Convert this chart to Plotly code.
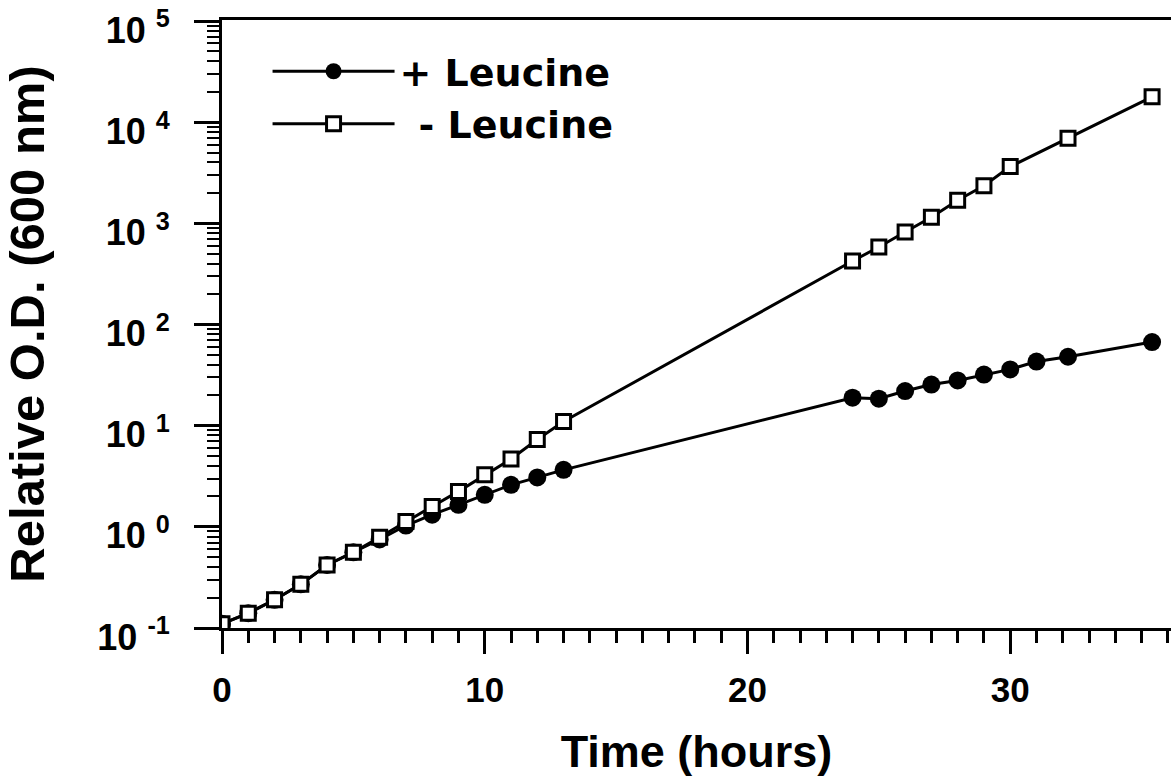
import plotly.graph_objects as go

# ---- data ----
time_plus = [0, 1, 2, 3, 4, 5, 6, 7, 8, 9, 10, 11, 12, 13,
             24, 25, 26, 27, 28, 29, 30, 31, 32.2, 35.4]
od_plus = [0.11, 0.14, 0.19, 0.27, 0.42, 0.56, 0.75, 1.03, 1.32, 1.65, 2.07, 2.6, 3.08, 3.66,
           18.9, 18.5, 22, 25.5, 28, 32, 36, 43, 48, 67]

time_minus = [0, 1, 2, 3, 4, 5, 6, 7, 8, 9, 10, 11, 12, 13,
              24, 25, 26, 27, 28, 29, 30, 32.2, 35.4]
od_minus = [0.11, 0.14, 0.19, 0.27, 0.42, 0.56, 0.79, 1.13, 1.59, 2.24, 3.27, 4.68, 7.3, 11,
            424, 583, 820, 1150, 1690, 2350, 3640, 6920, 17800]

series_names = ["+ Leucine", "\u2002- Leucine"]
x_tick_vals = [0, 10, 20, 30]
y_tick_vals = [0.1, 1, 10, 100, 1000, 10000, 100000]
y_tick_text = ["10 <sup>-1</sup>", "10 <sup>0</sup>", "10 <sup>1</sup>", "10 <sup>2</sup>",
               "10 <sup>3</sup>", "10 <sup>4</sup>", "10 <sup>5</sup>"]
x_title = "Time (hours)"
y_title = "Relative O.D. (600 nm)"

FONT = "Liberation Sans, Arial, Helvetica, sans-serif"
LEGEND_FONT = "DejaVu Sans, Liberation Sans, sans-serif"

fig = go.Figure()
fig.add_trace(go.Scatter(
    x=time_plus, y=od_plus, mode="lines+markers", name=series_names[0],
    line=dict(color="black", width=3),
    marker=dict(symbol="circle", size=18, color="black"),
))
fig.add_trace(go.Scatter(
    x=time_minus, y=od_minus, mode="lines+markers", name=series_names[1],
    line=dict(color="black", width=3),
    marker=dict(symbol="square", size=14, color="white", line=dict(color="black", width=3)),
))

fig.update_layout(
    width=1171, height=780,
    margin=dict(l=222, r=0, t=20, b=152, autoexpand=False),
    paper_bgcolor="white", plot_bgcolor="white",
    font=dict(family=FONT, color="black", size=34, weight="bold"),
    showlegend=True,
    legend=dict(
        x=0.048, y=0.967, xanchor="left", yanchor="top",
        bgcolor="rgba(0,0,0,0)", borderwidth=0,
        font=dict(family=LEGEND_FONT, size=38, color="black", weight="bold"),
        itemwidth=122,
    ),
    xaxis=dict(
        range=[0, 36.12],
        tickmode="array", tickvals=x_tick_vals,
        ticks="outside", ticklen=23, tickwidth=3, tickcolor="black",
        ticklabelstandoff=6,
        minor=dict(ticks="outside", ticklen=12, tickwidth=2.5, tickcolor="black", dtick=1, showgrid=False),
        showline=True, linewidth=3, linecolor="black", mirror=True,
        showgrid=False, zeroline=False,
        tickfont=dict(family=FONT, size=35, color="black", weight="bold"),
        title=dict(text=x_title, standoff=28,
                   font=dict(family=FONT, size=45, color="black", weight="bold")),
    ),
    yaxis=dict(
        type="log", range=[-1, 5.01],
        tickmode="array", tickvals=y_tick_vals, ticktext=y_tick_text,
        ticks="outside", ticklen=25, tickwidth=3, tickcolor="black",
        ticklabelstandoff=17, ticklabeloverflow="allow", ticklabelshift=9,
        minor=dict(ticks="outside", ticklen=12, tickwidth=2, tickcolor="black", dtick="D1", showgrid=False),
        showline=True, linewidth=3, linecolor="black",
        showgrid=False, zeroline=False,
        tickfont=dict(family=FONT, size=36, color="black", weight="bold"),
        title=dict(text=y_title, standoff=38,
                   font=dict(family=FONT, size=49, color="black", weight="bold")),
    ),
)

fig.write_html("out.html")
